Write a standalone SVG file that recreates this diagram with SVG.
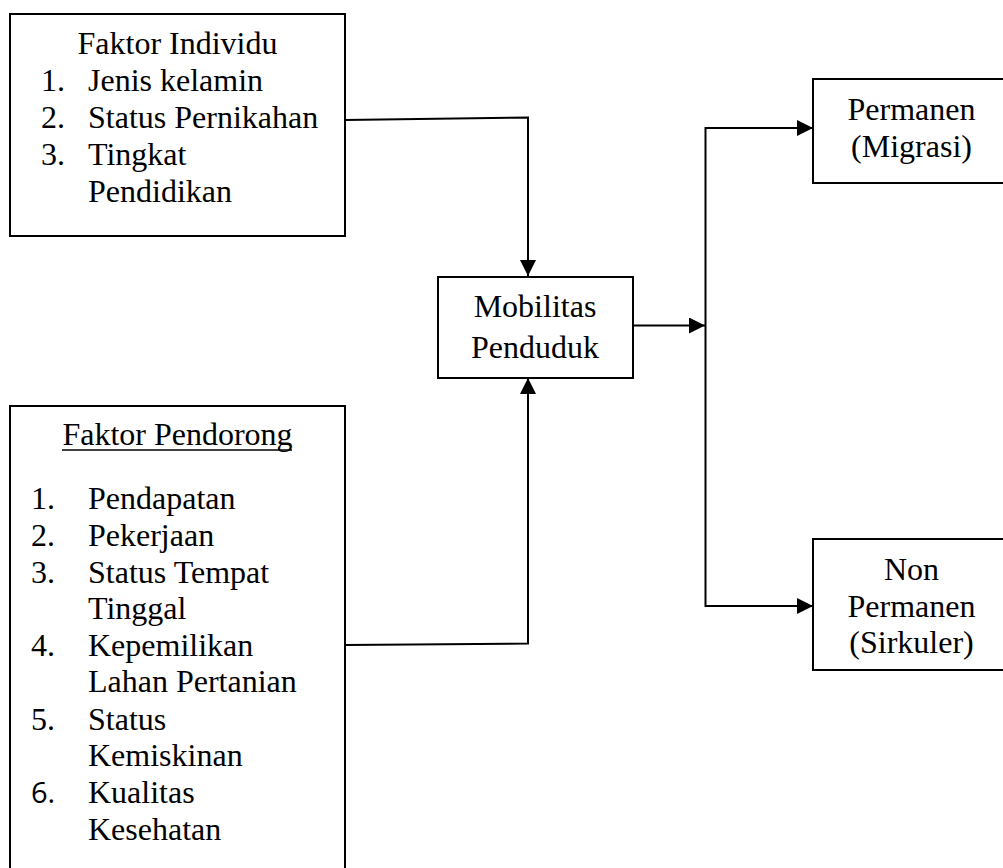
<svg xmlns="http://www.w3.org/2000/svg" width="1003" height="868" viewBox="0 0 1003 868">
<style>
.box{fill:#fff;stroke:#000;stroke-width:2}
.t{font-family:"Liberation Serif","Times New Roman",Times,serif;font-size:32px;fill:#000}
.c{text-anchor:middle}
.s{font-family:"Open Sans","Liberation Sans",sans-serif;font-size:29px;fill:#000}
.ln{fill:none;stroke:#000;stroke-width:2}
</style>
<defs>
<marker id="ahL" markerWidth="16" markerHeight="16" refX="16" refY="8" orient="auto" markerUnits="userSpaceOnUse" viewBox="0 0 16 16">
<path d="M0,0 L16,8 L0,16 Z" fill="#000"/>
</marker>
</defs>
<rect width="1003" height="868" fill="#fff"/>
<g id="connectors">
<polyline class="ln" points="345,120 528,117.5 528,276" marker-end="url(#ahL)"/>
<polyline class="ln" points="345,645 528,643.5 528,378" marker-end="url(#ahL)"/>
<line class="ln" x1="633" y1="325.5" x2="705" y2="325.5" marker-end="url(#ahL)"/>
<polyline class="ln" points="705.5,325 705.5,128 813,128" marker-end="url(#ahL)"/>
<polyline class="ln" points="705.5,325 705.5,606 813,606" marker-end="url(#ahL)"/>
</g>
<g id="faktor-individu">
<rect class="box" x="10" y="14" width="335" height="222"/>
<text class="t c" x="177.5" y="54">Faktor Individu</text>
<text class="t" x="41" y="91">1.</text><text class="t" x="88" y="91">Jenis kelamin</text>
<text class="t" x="41" y="128">2.</text><text class="t" x="88" y="128">Status Pernikahan</text>
<text class="t" x="41" y="165">3.</text><text class="t" x="88" y="165">Tingkat</text>
<text class="t" x="88" y="202">Pendidikan</text>
</g>
<g id="faktor-pendorong">
<rect class="box" x="10" y="406" width="335" height="480"/>
<text class="t c" x="177.5" y="445">Faktor Pendorong</text>
<line x1="62" y1="450" x2="292" y2="450" stroke="#000" stroke-width="1.5"/>
<text class="t" x="31" y="509">1.</text><text class="t" x="88" y="509">Pendapatan</text>
<text class="t" x="31" y="546">2.</text><text class="t" x="88" y="546">Pekerjaan</text>
<text class="t" x="31" y="583">3.</text><text class="t" x="88" y="583">Status Tempat</text>
<text class="t" x="88" y="619">Tinggal</text>
<text class="t" x="31" y="656">4.</text><text class="t" x="88" y="656">Kepemilikan</text>
<text class="t" x="88" y="692">Lahan Pertanian</text>
<text class="t" x="31" y="730">5.</text><text class="t" x="88" y="730">Status</text>
<text class="t" x="88" y="766">Kemiskinan</text>
<text class="s" x="31" y="803">6.</text><text class="t" x="88" y="803">Kualitas</text>
<text class="t" x="88" y="840">Kesehatan</text>
</g>
<g id="mobilitas">
<rect class="box" x="438" y="277" width="195" height="101"/>
<text class="t c" x="535" y="317">Mobilitas</text>
<text class="t c" x="535" y="358">Penduduk</text>
</g>
<g id="permanen">
<rect class="box" x="813" y="79" width="200" height="104"/>
<text class="t c" x="911.5" y="120">Permanen</text>
<text class="t c" x="911.5" y="157">(Migrasi)</text>
</g>
<g id="non-permanen">
<rect class="box" x="813" y="539" width="200" height="131"/>
<text class="t c" x="911.5" y="580">Non</text>
<text class="t c" x="911.5" y="617">Permanen</text>
<text class="t c" x="911.5" y="653">(Sirkuler)</text>
</g>
</svg>
